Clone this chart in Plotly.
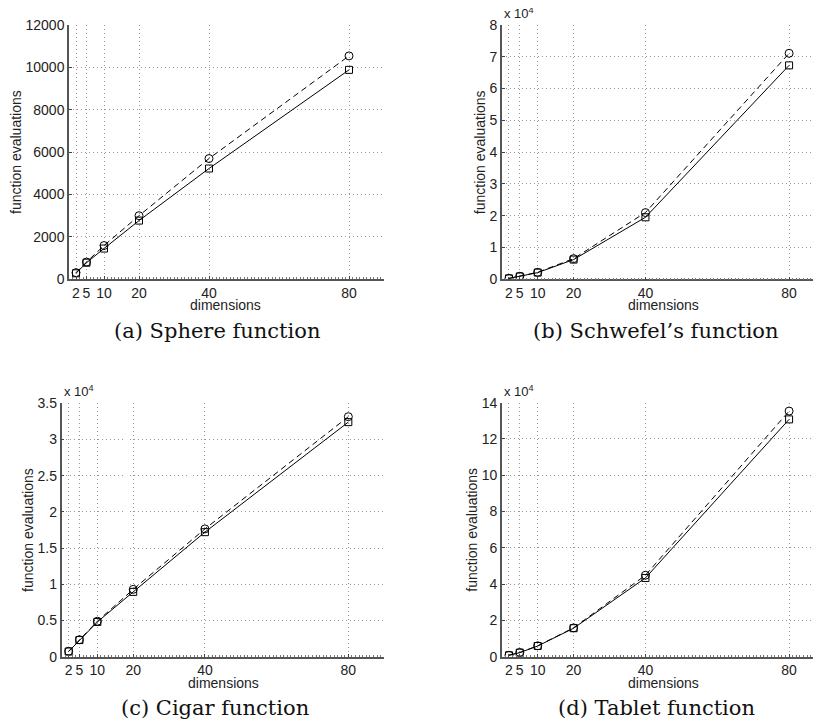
import plotly.graph_objects as go

W, H = 821, 727
OFF = 8  # the page body has an 8px margin; shift the figure to compensate
FW, FH = W - OFF, H - OFF

dims = [2, 5, 10, 20, 40, 80]
xtick_labels = ["2", "5", "10", "20", "40", "80"]

# (a) Sphere
sphere_circle = [300, 800, 1580, 2990, 5690, 10540]
sphere_square = [270, 770, 1440, 2760, 5220, 9880]
# (b) Schwefel
schwefel_circle = [300, 950, 2200, 6500, 21000, 71100]
schwefel_square = [280, 900, 2100, 6200, 19500, 67300]
# (c) Cigar
cigar_circle = [750, 2350, 4900, 9300, 17650, 33150]
cigar_square = [720, 2300, 4800, 8950, 17200, 32400]
# (d) Tablet
tablet_circle = [800, 2300, 6000, 15900, 44900, 135400]
tablet_square = [780, 2250, 5900, 15700, 43400, 130800]

panels = [
    dict(circ=sphere_circle, sq=sphere_square, ymax=12000, yticks=[0, 2000, 4000, 6000, 8000, 10000, 12000],
         ylabels=["0", "2000", "4000", "6000", "8000", "10000", "12000"], scale=False,
         px=(69, 384), py=(25, 279), ytitle_x=16, xtitle_x=226,
         caption="(a) Sphere function", cap=(217, 331)),
    dict(circ=schwefel_circle, sq=schwefel_square, ymax=80000, yticks=[i * 10000 for i in range(9)],
         ylabels=[str(i) for i in range(9)], scale=True,
         px=(501.8, 825), py=(25, 279.3), ytitle_x=480, xtitle_x=663,
         caption="(b) Schwefel\u2019s function", cap=(656, 331)),
    dict(circ=cigar_circle, sq=cigar_square, ymax=35000, yticks=[i * 5000 for i in range(8)],
         ylabels=["0", "0.5", "1", "1.5", "2", "2.5", "3", "3.5"], scale=True,
         px=(61.5, 384.2), py=(403.3, 656.7), ytitle_x=28, xtitle_x=223,
         caption="(c) Cigar function", cap=(215, 708)),
    dict(circ=tablet_circle, sq=tablet_square, ymax=140000, yticks=[i * 20000 for i in range(8)],
         ylabels=["0", "2", "4", "6", "8", "10", "12", "14"], scale=True,
         px=(501.8, 825), py=(402.7, 656.7), ytitle_x=472, xtitle_x=663,
         caption="(d) Tablet function", cap=(656, 708)),
]


def fx(px):
    return (px - OFF) / FW


def fy(py):
    return 1 - (py - OFF) / FH


fig = go.Figure()
annotations = []
layout = {}
sans = "Liberation Sans, Arial, sans-serif"
tick_font = dict(family=sans, size=14, color="#222")
title_font = dict(family=sans, size=14, color="#222")

for i, p in enumerate(panels):
    k = "" if i == 0 else str(i + 1)
    xa, ya = "x" + k, "y" + k
    x0, x1 = p["px"]
    xr1 = 90.0
    if x1 > W:
        xr1 = 90.0 * (W - x0) / (x1 - x0)
        x1 = W
    fig.add_trace(go.Scatter(x=dims, y=p["circ"], xaxis=xa, yaxis=ya, mode="lines+markers",
                             line=dict(color="black", width=1, dash="6px,4px"),
                             marker=dict(symbol="circle-open", size=8, color="black", line=dict(width=1)),
                             showlegend=False))
    fig.add_trace(go.Scatter(x=dims, y=p["sq"], xaxis=xa, yaxis=ya, mode="lines+markers",
                             line=dict(color="black", width=1),
                             marker=dict(symbol="square-open", size=7, color="black", line=dict(width=1)),
                             showlegend=False))
    y0p, y1p = p["py"]
    layout["xaxis" + k] = dict(
        domain=[fx(x0), min(1.0, fx(x1))], range=[0, xr1], anchor=ya, automargin=False,
        tickvals=dims, ticktext=xtick_labels, ticks="inside", ticklen=3, tickcolor="#444",
        showline=True, linecolor="#555", linewidth=1.5,
        showgrid=True, gridcolor="#999", griddash="1px,3px", gridwidth=1,
        zeroline=False, tickfont=tick_font,
        minor=dict(ticks="inside", dtick=1, tick0=0, ticklen=2, tickcolor="#777", showgrid=False),
        fixedrange=True,
    )
    layout["yaxis" + k] = dict(
        domain=[fy(y1p), fy(y0p)], range=[0, p["ymax"]], anchor=xa, automargin=False,
        tickvals=p["yticks"], ticktext=p["ylabels"], ticks="inside", ticklen=3, tickcolor="#444",
        showline=True, linecolor="#555", linewidth=1.5,
        showgrid=True, gridcolor="#999", griddash="1px,3px", gridwidth=1,
        zeroline=False, tickfont=tick_font,
        fixedrange=True,
    )
    annotations.append(dict(text="dimensions", xref="paper", yref="paper",
                            x=fx(p["xtitle_x"]), y=fy(y1p + 26), xanchor="center", yanchor="middle",
                            showarrow=False, font=title_font))
    annotations.append(dict(text="function evaluations", xref="paper", yref="paper", textangle=-90,
                            x=fx(p["ytitle_x"]), y=fy((y0p + y1p) / 2), xanchor="center",
                            yanchor="middle", showarrow=False, font=title_font))
    if p["scale"]:
        annotations.append(dict(text="x 10<sup>4</sup>", xref="paper", yref="paper",
                                x=fx(x0), y=fy(y0p - 2), xanchor="left", yanchor="bottom",
                                showarrow=False, font=dict(family=sans, size=13, color="#222")))
    cx, cy = p["cap"]
    annotations.append(dict(text=p["caption"], xref="paper", yref="paper", x=fx(cx), y=fy(cy),
                            xanchor="center", yanchor="middle", showarrow=False,
                            font=dict(family="DejaVu Serif, Liberation Serif, serif", size=21, color="#111")))

fig.update_layout(**layout)
fig.update_layout(width=FW, height=FH, margin=dict(l=0, r=0, t=0, b=0),
                  paper_bgcolor="white", plot_bgcolor="white", annotations=annotations,
                  showlegend=False)
fig.write_html("out.html")
